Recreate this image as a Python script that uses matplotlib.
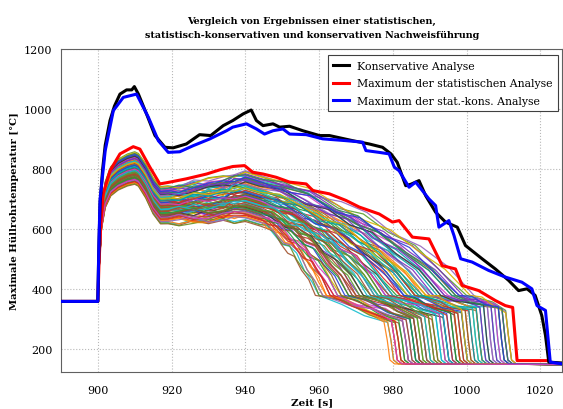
import matplotlib
matplotlib.use("Agg")
import matplotlib.pyplot as plt

plt.rcParams["font.family"] = ["DejaVu Serif"]

# thick reference curves
kons_t = [890, 900, 900.2, 900.6, 901.3, 902, 903.3, 904.5, 906, 907.8, 909.2, 909.9, 911,
          913.2, 915.5, 918.2, 920.4, 924, 927.6, 930.6, 934, 936.6, 939.4, 941.6, 943,
          944.8, 947.5, 949.3, 952, 955.6, 960.1, 962.8, 969.1, 973.6, 977.2, 979.5, 981.2,
          983.5, 984.9, 987.1, 988.9, 991.6, 994.3, 997.5, 999.7, 1004.2, 1007.8, 1011.4,
          1014.1, 1016.4, 1018.6, 1020.4, 1021.4, 1022.3, 1026]
kons_y = [360, 360, 500, 685, 800, 880, 962, 1010, 1050, 1064, 1064, 1075, 1050,
          984, 912, 873, 871, 884, 915, 912, 945, 962, 984, 997, 962,
          945, 951, 940, 943, 928, 912, 912, 895, 884, 873, 851, 823,
          745, 750, 762, 712, 657, 624, 607, 546, 502, 468, 430,
          396, 402, 380, 313, 247, 158, 155]

skons_t = [890, 900, 900.3, 900.6, 902, 904.2, 906.9, 910.5, 913.7, 916.4, 919.1, 922.2,
           925.8, 930.4, 934.9, 936.6, 940.3, 943, 945.2, 947.5, 950.2, 952, 956.5, 961,
           967.3, 971.8, 972.7, 976.3, 979, 980.4, 981.7, 984.4, 986.2, 989.8, 991.6,
           992.5, 995.2, 996.6, 998.4, 1001.5, 1006, 1010.5, 1015, 1017.7, 1019.1,
           1021.4, 1022.7, 1026]
skons_y = [360, 360, 560, 700, 862, 995, 1039, 1050, 973, 895, 856, 858,
           878, 901, 928, 940, 951, 934, 917, 928, 934, 917, 915, 901,
           895, 890, 862, 856, 851, 807, 795, 740, 757, 701, 679,
           607, 629, 579, 502, 491, 463, 441, 424, 402, 346,
           330, 158, 152]

stat_t = [890, 900, 900.3, 900.8, 901.5, 903.3, 906, 909.6, 911.4, 914.1, 916.8, 919.5,
          924, 929.5, 933.1, 936.6, 939.8, 942, 944.8, 948.4, 952, 956.5, 958.3, 962.8,
          967.3, 970.9, 976.3, 979.9, 981.7, 985.3, 989.8, 993.4, 997, 998.8, 1003.3,
          1007.8, 1010.5, 1012.5, 1013.7, 1022]
stat_y = [360, 360, 480, 620, 720, 795, 851, 875, 867, 807, 751, 757,
          768, 784, 798, 809, 812, 790, 784, 773, 757, 751, 729, 718,
          696, 674, 651, 624, 629, 574, 568, 479, 468, 413, 396,
          363, 346, 340, 163, 163]

# individual runs of the statistical analysis (values read per run)
run_peak = [812, 768, 845, 790, 755, 830, 801, 776, 858, 784,
            822, 760, 795, 838, 771, 808, 750, 826, 789, 850,
            779, 815, 762, 842, 798, 770, 834, 805, 757, 818,
            786, 848, 773, 811, 765, 829, 794, 853, 781, 758,
            820, 803, 767, 840, 788, 775, 832, 809, 752, 825,
            797, 846, 774, 816, 761, 836, 792, 783, 855, 769,
            813, 800, 778, 843, 756, 827, 791, 764, 819, 852,
            785, 807, 772, 835, 796, 759, 823, 780, 848, 766]
run_trough = [700, 655, 735, 668, 628, 705, 690, 640, 742, 676,
              718, 622, 662, 712, 660, 683, 618, 725, 650, 730,
              668, 690, 635, 722, 672, 645, 700, 695, 625, 708,
              662, 738, 650, 678, 640, 715, 686, 728, 655, 632,
              698, 680, 648, 730, 670, 642, 710, 692, 620, 712,
              678, 720, 658, 702, 638, 724, 664, 672, 740, 644,
              688, 684, 652, 716, 630, 706, 674, 626, 694, 734,
              660, 696, 654, 718, 666, 634, 702, 648, 726, 640]
run_v940 = [738, 682, 776, 690, 640, 745, 712, 668, 792, 705,
            752, 632, 700, 760, 676, 722, 626, 768, 680, 785,
            698, 728, 655, 770, 714, 660, 748, 720, 648, 740,
            692, 795, 672, 716, 652, 762, 708, 780, 686, 646,
            735, 718, 664, 775, 702, 674, 756, 726, 630, 750,
            706, 772, 684, 742, 660, 764, 696, 700, 790, 666,
            724, 710, 678, 758, 642, 744, 704, 638, 730, 782,
            690, 736, 670, 766, 694, 650, 738, 676, 774, 658]
run_knee = [986, 971, 996, 975, 961, 990, 978, 969, 1000, 980,
            988, 960, 976, 994, 968, 984, 959, 993, 974, 999,
            979, 982, 966, 997, 983, 964, 987, 985, 962, 991,
            972, 1002, 970, 977, 963, 992, 981, 998, 973, 964,
            984, 986, 967, 995, 976, 972, 989, 980, 960, 990,
            979, 996, 970, 988, 965, 991, 975, 982, 1001, 966,
            983, 978, 971, 993, 962, 985, 977, 961, 986, 997,
            974, 987, 968, 994, 976, 963, 989, 969, 998, 965]
run_drop = [998, 986, 1008, 990, 980, 1003, 994, 983, 1011, 996,
            1000, 979, 989, 1006, 988, 999, 982, 1004, 985, 1010,
            992, 1001, 981, 1009, 995, 984, 1002, 997, 978, 1005,
            987, 1011, 991, 993, 983, 1007, 996, 1010, 988, 980,
            997, 1000, 985, 1008, 990, 994, 1003, 992, 981, 1006,
            995, 1009, 986, 1001, 982, 1004, 989, 998, 1011, 984,
            999, 993, 987, 1005, 979, 1002, 991, 983, 997, 1010,
            988, 1003, 985, 1007, 994, 981, 999, 986, 1009, 980]
run_end = [320, 305, 345, 312, 298, 330, 318, 300, 330, 325,
           335, 290, 310, 350, 302, 322, 288, 340, 308, 335,
           315, 328, 296, 338, 320, 299, 338, 316, 292, 342,
           306, 325, 300, 318, 294, 348, 324, 332, 304, 293,
           326, 332, 301, 347, 313, 307, 336, 319, 289, 344,
           314, 340, 303, 333, 297, 341, 309, 321, 322, 299,
           327, 317, 304, 349, 291, 337, 311, 295, 329, 336,
           306, 339, 302, 346, 316, 294, 334, 303, 342, 296]

# common course of a run (fractions between its key values)
rise_t = [900, 900.4, 901, 902, 903.5, 905.5, 908, 910]
rise_f = [0, 0.3, 0.62, 0.8, 0.9, 0.95, 0.985, 1.0]
fall_t = [911, 913, 915, 917]
fall_f = [0.05, 0.35, 0.75, 1.0]
mid_t = [919, 922, 926, 930, 934, 937, 940]
mid_f = [0.05, 0.15, 0.3, 0.45, 0.5, 0.85, 1.0]
dec_s = [0, 0.12, 0.25, 0.38, 0.5, 0.62, 0.75, 0.88, 1.0]
dec_f = [0, 0.06, 0.14, 0.24, 0.34, 0.46, 0.6, 0.79, 1.0]
flat_s = [0.33, 0.66]
flat_f = [0.3, 0.65]

# jitter shapes (°C), used in turn by the runs
mid_wig = [[0, 8, -6, 10, -4, 12, 0],
           [0, -6, 9, -3, 8, -5, 0],
           [0, 4, 12, -8, -2, 6, 0],
           [0, -10, -3, 7, 11, -9, 0],
           [0, 6, -9, -12, 5, 3, 0]]
dec_wig = [[0, 12, -8, 10, -6, 14, -5, 9, 0],
           [0, -10, 6, -12, 9, -4, 8, -7, 0],
           [0, 6, 14, -5, -12, 5, -9, 4, 0],
           [0, -6, -14, 8, 12, -10, 4, 11, 0],
           [0, 9, -4, -11, 7, 13, -12, -5, 0],
           [0, -4, 11, 5, -9, -13, 10, 6, 0],
           [0, 14, 3, -7, 10, -8, -13, 8, 0]]
flat_wig = [[8, -6], [-7, 9], [5, 11], [-10, -4], [12, 3], [-3, -9]]

run_colors = ["#1f9e3a", "#7b2fbf", "#1bb5c9", "#d62828", "#d9b300", "#8c5a2b",
              "#2a3fd6", "#d43fbf", "#5aa02c", "#3a3a3a", "#ff7f0e", "#17becf",
              "#6b8e23", "#9467bd", "#c0392b", "#2e8b57", "#a0522d", "#00a3a3"]

fig = plt.figure(figsize=(5.63, 4.10), dpi=100)
ax = fig.add_axes([0.1083, 0.0902, 0.8907, 0.7878])

for i in range(len(run_peak)):
    pk, tr, v40 = run_peak[i], run_trough[i], run_v940[i]
    tk, td, ve = run_knee[i], run_drop[i], run_end[i]
    mw = mid_wig[i % len(mid_wig)]
    dw = dec_wig[i % len(dec_wig)]
    fw = flat_wig[i % len(flat_wig)]
    ts = [890]
    ys = [360]
    for t, f in zip(rise_t, rise_f):
        ts.append(t)
        ys.append(360 + f * (pk - 360))
    for t, f in zip(fall_t, fall_f):
        ts.append(t)
        ys.append(pk + f * (tr - pk))
    for t, f, w in zip(mid_t, mid_f, mw):
        ts.append(t)
        ys.append(tr + f * (v40 - tr) + w)
    v44 = v40 - 15
    for s, f, w in zip(dec_s, dec_f, dw):
        ts.append(944 + s * (tk - 944))
        ys.append(v44 + f * (380 - v44) + w)
    for s, f, w in zip(flat_s, flat_f, fw):
        ts.append(tk + s * (td - 0.4 - tk))
        ys.append(380 + f * (ve - 380) + w)
    ts += [td - 0.4, td + 0.5, td + 1.2, td + 2.5, 1026]
    ys += [ve, 230, 165, 152, 150]
    ax.plot(ts, ys, color=run_colors[i % len(run_colors)], lw=0.9, alpha=0.9, zorder=2)

ax.plot(stat_t, stat_y, color="#ff0000", lw=2.2, zorder=4,
        label="Maximum der statistischen Analyse")
ax.plot(kons_t, kons_y, color="black", lw=2.2, zorder=5, label="Konservative Analyse")
ax.plot(skons_t, skons_y, color="#0000ff", lw=2.2, zorder=6,
        label="Maximum der stat.-kons. Analyse")

ax.set_xlim(890, 1026)
ax.set_ylim(125, 1200)
ax.set_xticks([900, 920, 940, 960, 980, 1000, 1020])
ax.set_yticks([200, 400, 600, 800, 1000, 1200])
ax.grid(True, color="#b8b8b8", linestyle=":", lw=0.8)
ax.tick_params(length=0, labelsize=8)
ax.tick_params(axis="x", pad=9)
ax.tick_params(axis="y", pad=6)
for s in ax.spines.values():
    s.set_color("#606060")

handles, labels = ax.get_legend_handles_labels()
order = [1, 0, 2]
leg = ax.legend([handles[k] for k in order], [labels[k] for k in order],
                loc="upper right", fontsize=7.8, fancybox=False, edgecolor="#404040",
                framealpha=1, handlelength=1.5, borderpad=0.5, labelspacing=0.7,
                handletextpad=0.7, borderaxespad=0.3, bbox_to_anchor=(0.997, 0.99))
leg.get_frame().set_linewidth(0.8)

ax.set_xlabel("Zeit [s]", fontsize=7.5, fontweight="bold", labelpad=2)
ax.set_ylabel("Maximale Hüllrohrtemperatur [°C]", fontsize=7.2, fontweight="bold", labelpad=4)
ax.set_title("Vergleich von Ergebnissen einer statistischen,\n"
             "statistisch-konservativen und konservativen Nachweisführung",
             fontsize=6.9, fontweight="bold", pad=9, linespacing=1.65)

fig.savefig("out.png", dpi=100)
